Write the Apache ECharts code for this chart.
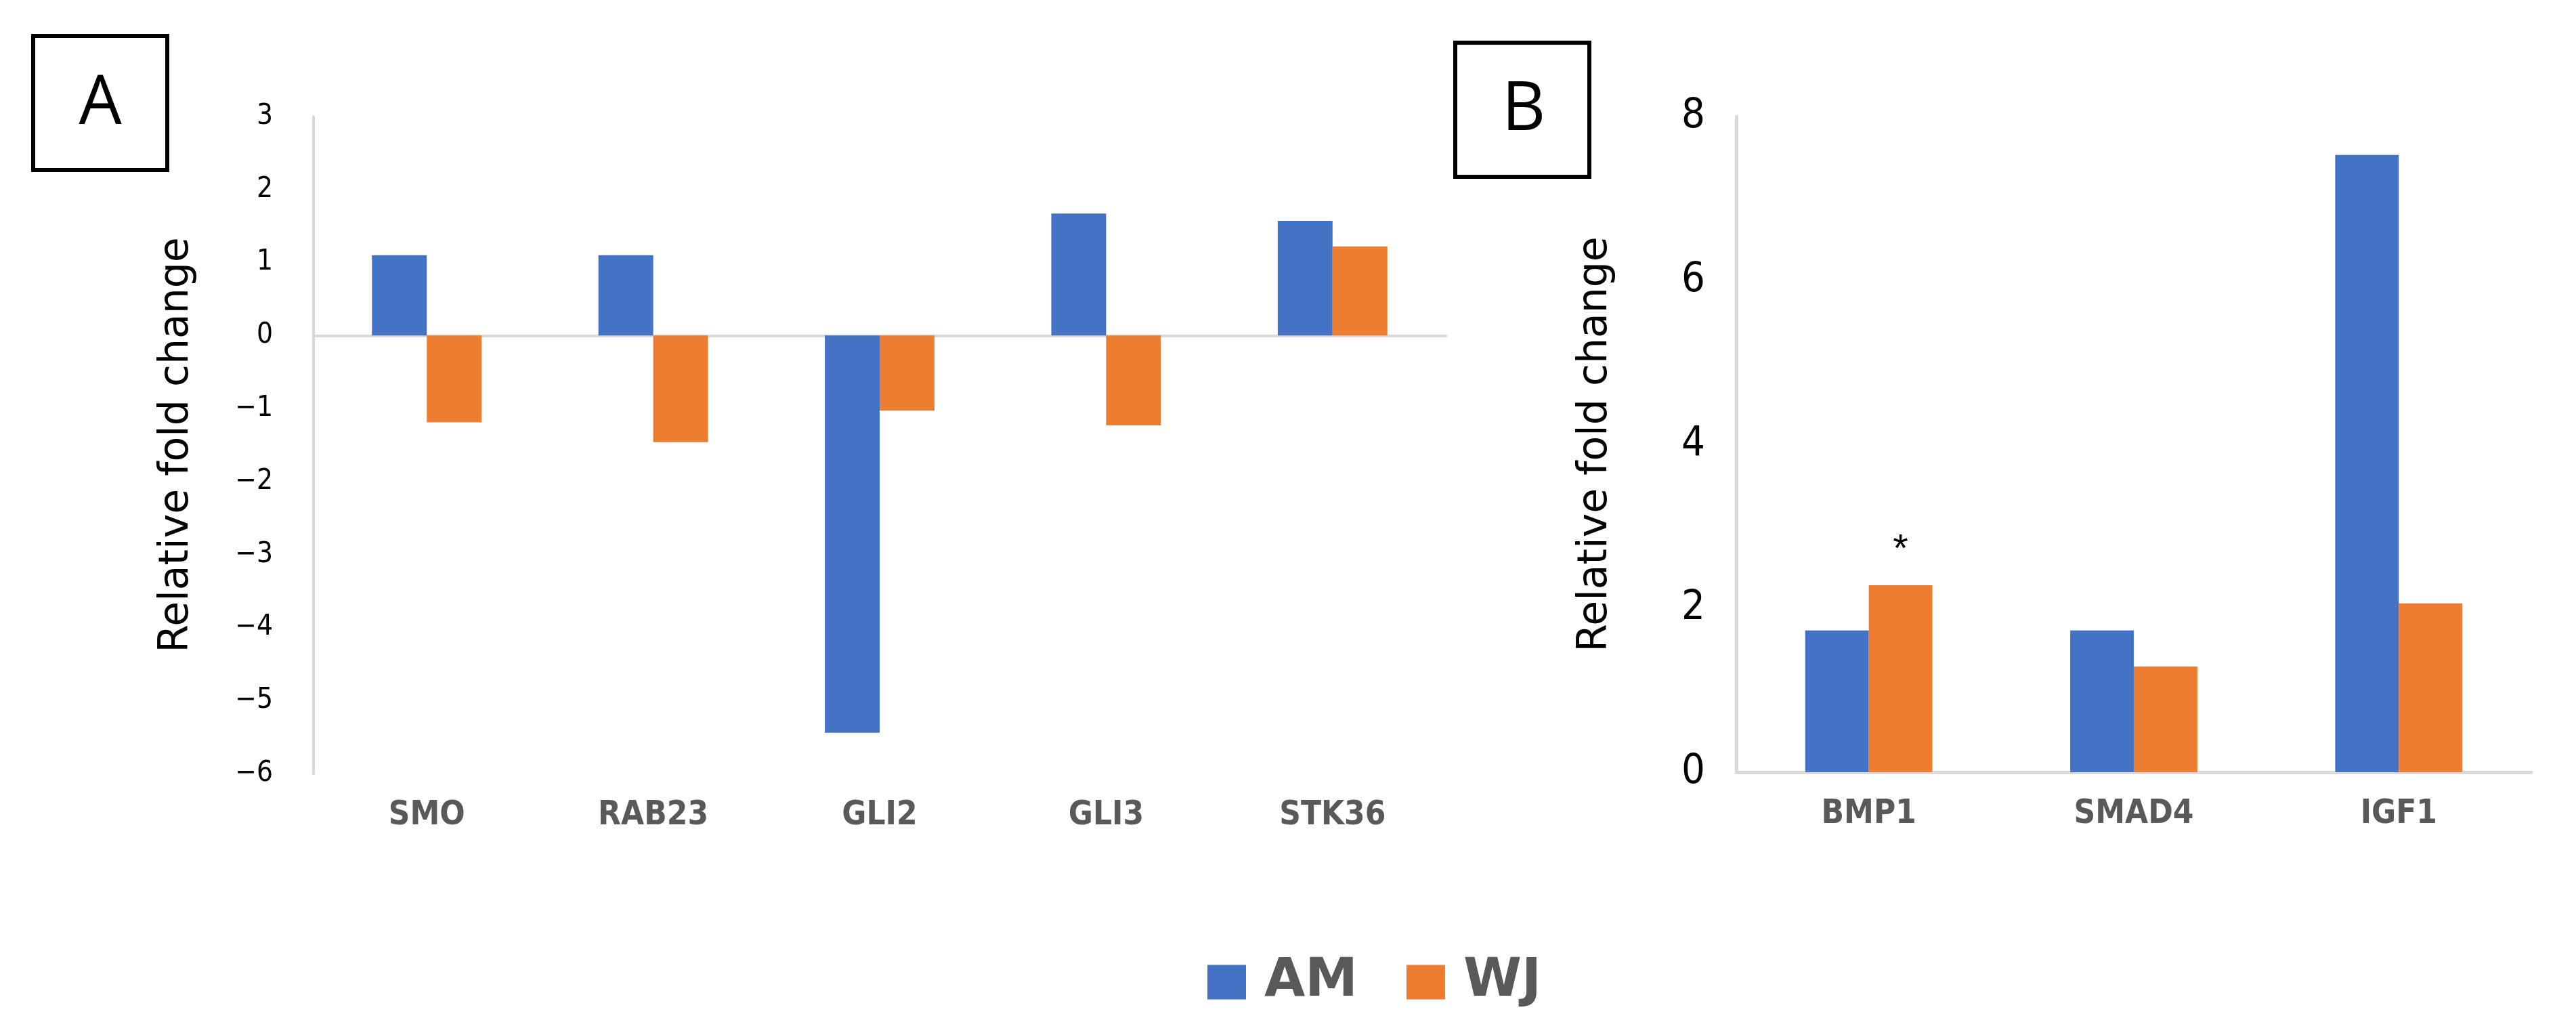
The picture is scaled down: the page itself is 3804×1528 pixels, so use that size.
<!DOCTYPE html>
<html>
<head>
<meta charset="utf-8">
<script src="https://cdn.jsdelivr.net/npm/echarts@6/dist/echarts.min.js"></script>
<style>html,body{margin:0;padding:0;background:#fff;}#c{width:3804px;height:1528px;}</style>
</head>
<body>
<div id="c"></div>
<script>
// ---- data ----
const catsA = ['SMO', 'RAB23', 'GLI2', 'GLI3', 'STK36'];
const amA = [1.10, 1.10, -5.44, 1.67, 1.57];
const wjA = [-1.19, -1.46, -1.03, -1.23, 1.22];
const catsB = ['BMP1', 'SMAD4', 'IGF1'];
const amB = [1.73, 1.73, 7.53];
const wjB = [2.28, 1.29, 2.06];
const seriesNames = ['AM', 'WJ'];
const panelLetters = ['A', 'B'];
const starIndexB = 0; // significance mark on WJ BMP1
const yTitle = 'Relative fold change';

const BLUE = '#4472C4', ORANGE = '#ED7D31', GRID = '#D9D9D9', TXT = '#595959';
const NARROW = "'Liberation Sans Narrow','DejaVu Sans Condensed',sans-serif";
const minusFmt = v => String(v).replace('-', '\u2212');

const chart = echarts.init(document.getElementById('c'), null, {renderer: 'canvas'});

const catLabel = {color: TXT, fontFamily: NARROW, fontWeight: 'bold', fontSize: 49, margin: 38};
const yName = {color: '#000', fontFamily: "'DejaVu Sans',sans-serif", fontSize: 60};

const wjBData = wjB.map((v, i) => i === starIndexB ? {
  value: v,
  label: {show: true, position: 'top', formatter: '*', fontSize: 58, color: '#000',
          fontFamily: "'Liberation Sans',sans-serif", distance: 22}
} : v);

const option = {
  backgroundColor: '#fff',
  animation: false,
  grid: [
    {left: 463, top: 172, width: 1672, height: 970},
    {left: 2564, top: 172, width: 1174, height: 968}
  ],
  legend: {
    data: seriesNames,
    left: 1778, top: 1406,
    itemWidth: 57, itemHeight: 51, itemGap: 72,
    icon: 'rect',
    formatter: n => '{t|' + n + '}',
    textStyle: {
      rich: {t: {color: TXT, fontFamily: "'DejaVu Sans',sans-serif", fontWeight: 'bold', fontSize: 78, padding: [0, 0, 0, 22]}}
    }
  },
  xAxis: [
    {gridIndex: 0, type: 'category', data: catsA, position: 'bottom',
     axisLine: {show: false, onZero: false}, axisTick: {show: false},
     axisLabel: catLabel, splitLine: {show: false}},
    {gridIndex: 0, type: 'category', data: catsA, position: 'bottom',
     axisLine: {show: true, onZero: true, lineStyle: {color: GRID, width: 4}},
     axisTick: {show: false}, axisLabel: {show: false}, splitLine: {show: false}},
    {gridIndex: 1, type: 'category', data: catsB, position: 'bottom',
     axisLine: {show: true, lineStyle: {color: GRID, width: 5}},
     axisTick: {show: false}, axisLabel: catLabel, splitLine: {show: false}}
  ],
  yAxis: [
    {gridIndex: 0, type: 'value', min: -6, max: 3, interval: 1,
     name: yTitle, nameLocation: 'middle', nameGap: 172, nameTextStyle: yName,
     axisLine: {show: true, lineStyle: {color: GRID, width: 4}},
     axisTick: {show: false}, splitLine: {show: false},
     axisLabel: {color: '#000', fontFamily: NARROW, fontSize: 42, margin: 60, formatter: minusFmt}},
    {gridIndex: 1, type: 'value', min: 0, max: 8, interval: 2,
     name: yTitle, nameLocation: 'middle', nameGap: 178, nameTextStyle: yName,
     axisLine: {show: true, lineStyle: {color: GRID, width: 5}},
     axisTick: {show: false}, splitLine: {show: false},
     axisLabel: {color: '#000', fontFamily: NARROW, fontSize: 61, margin: 46, formatter: minusFmt}}
  ],
  series: [
    {name: seriesNames[0], type: 'bar', xAxisIndex: 0, yAxisIndex: 0, data: amA,
     barWidth: '24.2%', barGap: '0%', itemStyle: {color: BLUE}},
    {name: seriesNames[1], type: 'bar', xAxisIndex: 0, yAxisIndex: 0, data: wjA,
     barWidth: '24.2%', barGap: '0%', itemStyle: {color: ORANGE}},
    {name: seriesNames[0], type: 'bar', xAxisIndex: 2, yAxisIndex: 1, data: amB,
     barWidth: '24%', barGap: '0%', itemStyle: {color: BLUE}},
    {name: seriesNames[1], type: 'bar', xAxisIndex: 2, yAxisIndex: 1, data: wjBData,
     barWidth: '24%', barGap: '0%', itemStyle: {color: ORANGE}}
  ],
  graphic: [
    {type: 'rect', shape: {x: 49, y: 53, width: 198, height: 198},
     style: {fill: 'none', stroke: '#000', lineWidth: 6}},
    {type: 'text', x: 148, y: 155,
     style: {text: panelLetters[0], fill: '#000', font: "100px 'Open Sans',sans-serif", textAlign: 'center', textVerticalAlign: 'middle'}},
    {type: 'rect', shape: {x: 2149, y: 63, width: 198, height: 198},
     style: {fill: 'none', stroke: '#000', lineWidth: 6}},
    {type: 'text', x: 2250, y: 164,
     style: {text: panelLetters[1], fill: '#000', font: "100px 'Open Sans',sans-serif", textAlign: 'center', textVerticalAlign: 'middle'}}
  ]
};
chart.setOption(option);
</script>
</body>
</html>
